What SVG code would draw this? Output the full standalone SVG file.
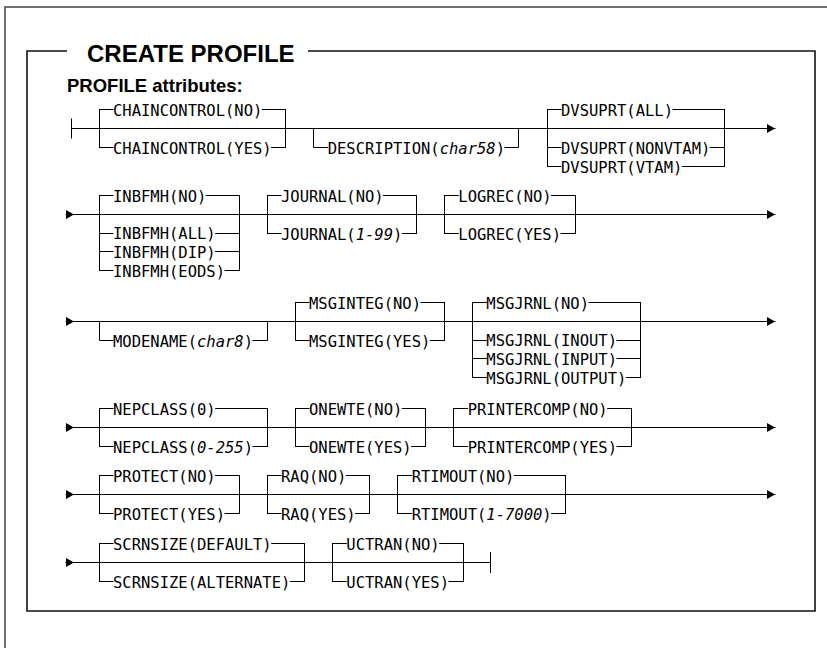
<svg xmlns="http://www.w3.org/2000/svg" width="827" height="648" viewBox="0 0 827 648">
<defs>
<style>
.t{font-family:"DejaVu Sans Mono","Liberation Mono",monospace;font-size:15.5px;fill:#000}
.i{font-style:italic}
.ln{stroke:#000;stroke-width:1;fill:none;stroke-linecap:square}
.h{font-family:"Liberation Sans",Arial,sans-serif;font-weight:bold;fill:#000}
</style>
<marker id="arrS" markerUnits="userSpaceOnUse" markerWidth="8" markerHeight="9" viewBox="0 0 8 9" refX="0" refY="4.5" orient="auto"><path d="M0 0L8 4.5L0 9z" fill="#000"/></marker>
<marker id="arrE" markerUnits="userSpaceOnUse" markerWidth="8" markerHeight="9" viewBox="0 0 8 9" refX="8" refY="4.5" orient="auto"><path d="M0 0L8 4.5L0 9z" fill="#000"/></marker>
</defs>
<rect width="827" height="648" fill="#fff"/>
<g id="frame">
<path d="M5 648V7H827" fill="none" stroke="#444" stroke-width="1.5"/>
<path d="M67 51H27V611H815V51H308" fill="none" stroke="#111" stroke-width="1.6"/>
<text class="h" x="87" y="61.5" font-size="24">CREATE PROFILE</text>
<text class="h" x="67" y="92" font-size="18.5">PROFILE attributes:</text>
</g>
<g id="connectors" class="ln">
<path d="M71.5 128.5H775" marker-end="url(#arrE)"/>
<path d="M71.5 119V138"/>
<path d="M66 214.5H775" marker-start="url(#arrS)" marker-end="url(#arrE)"/>
<path d="M66 321.5H775" marker-start="url(#arrS)" marker-end="url(#arrE)"/>
<path d="M66 427.5H775" marker-start="url(#arrS)" marker-end="url(#arrE)"/>
<path d="M66 494.5H775" marker-start="url(#arrS)" marker-end="url(#arrE)"/>
<path d="M66 562.5H490.5" marker-start="url(#arrS)"/>
<path d="M490.5 552.5V572.5"/>
</g>
<g id="chaincontrol">
<path class="ln" d="M99.5 109.5V147.5M285.5 109.5V147.5M99.5 109.5H113M262.33 109.5H285.5M99.5 147.5H113M271.67 147.5H285.5"/>
<text class="t" x="113" y="115.8">CHAINCONTROL(NO)</text>
<text class="t" x="113" y="153.8">CHAINCONTROL(YES)</text>
</g>
<g id="description">
<path class="ln" d="M313.5 128.5V147.5H327.67M505 147.5H518.5V128.5"/>
<text class="t" x="327.67" y="153.8">DESCRIPTION(<tspan class="i">char58</tspan>)</text>
</g>
<g id="dvsuprt">
<path class="ln" d="M547.5 109.5V166.5M724.5 109.5V166.5M547.5 109.5H561M673 109.5H724.5M547.5 147.5H561M710.33 147.5H724.5M547.5 166.5H561M682.33 166.5H724.5"/>
<text class="t" x="561" y="115.8">DVSUPRT(ALL)</text>
<text class="t" x="561" y="153.8">DVSUPRT(NONVTAM)</text>
<text class="t" x="561" y="172.8">DVSUPRT(VTAM)</text>
</g>
<g id="inbfmh">
<path class="ln" d="M99.5 195.5V270.5M239.5 195.5V270.5M99.5 195.5H113M206.33 195.5H239.5M99.5 233.5H113M215.67 233.5H239.5M99.5 251.5H113M215.67 251.5H239.5M99.5 270.5H113M225 270.5H239.5"/>
<text class="t" x="113" y="201.8">INBFMH(NO)</text>
<text class="t" x="113" y="239.45">INBFMH(ALL)</text>
<text class="t" x="113" y="258.15">INBFMH(DIP)</text>
<text class="t" x="113" y="276.85">INBFMH(EODS)</text>
</g>
<g id="journal">
<path class="ln" d="M267.5 195.5V233.5M416.5 195.5V233.5M267.5 195.5H281M383.67 195.5H416.5M267.5 233.5H281M402.33 233.5H416.5"/>
<text class="t" x="281" y="201.8">JOURNAL(NO)</text>
<text class="t" x="281" y="239.8">JOURNAL(<tspan class="i">1-99</tspan>)</text>
</g>
<g id="logrec">
<path class="ln" d="M444.5 195.5V233.5M575.5 195.5V233.5M444.5 195.5H458.33M551.67 195.5H575.5M444.5 233.5H458.33M561 233.5H575.5"/>
<text class="t" x="458.33" y="201.8">LOGREC(NO)</text>
<text class="t" x="458.33" y="239.8">LOGREC(YES)</text>
</g>
<g id="modename">
<path class="ln" d="M99.5 321.5V340.5H113M253 340.5H267.5V321.5"/>
<text class="t" x="113" y="346.8">MODENAME(<tspan class="i">char8</tspan>)</text>
</g>
<g id="msginteg">
<path class="ln" d="M295.5 302.5V340.5M444.5 302.5V340.5M295.5 302.5H309M421 302.5H444.5M295.5 340.5H309M430.33 340.5H444.5"/>
<text class="t" x="309" y="308.8">MSGINTEG(NO)</text>
<text class="t" x="309" y="346.8">MSGINTEG(YES)</text>
</g>
<g id="msgjrnl">
<path class="ln" d="M472.5 302.5V377.5M640.5 302.5V377.5M472.5 302.5H486.33M589 302.5H640.5M472.5 340.5H486.33M617 340.5H640.5M472.5 358.5H486.33M617 358.5H640.5M472.5 377.5H486.33M626.33 377.5H640.5"/>
<text class="t" x="486.33" y="308.8">MSGJRNL(NO)</text>
<text class="t" x="486.33" y="346.45">MSGJRNL(INOUT)</text>
<text class="t" x="486.33" y="365.15">MSGJRNL(INPUT)</text>
<text class="t" x="486.33" y="383.85">MSGJRNL(OUTPUT)</text>
</g>
<g id="nepclass">
<path class="ln" d="M99.5 408.5V446.5M267.5 408.5V446.5M99.5 408.5H113M215.67 408.5H267.5M99.5 446.5H113M253 446.5H267.5"/>
<text class="t" x="113" y="414.8">NEPCLASS(0)</text>
<text class="t" x="113" y="452.8">NEPCLASS(<tspan class="i">0-255</tspan>)</text>
</g>
<g id="onewte">
<path class="ln" d="M295.5 408.5V446.5M425.5 408.5V446.5M295.5 408.5H309M402.33 408.5H425.5M295.5 446.5H309M411.67 446.5H425.5"/>
<text class="t" x="309" y="414.8">ONEWTE(NO)</text>
<text class="t" x="309" y="452.8">ONEWTE(YES)</text>
</g>
<g id="printercomp">
<path class="ln" d="M453.5 408.5V446.5M631.5 408.5V446.5M453.5 408.5H467.67M607.67 408.5H631.5M453.5 446.5H467.67M617 446.5H631.5"/>
<text class="t" x="467.67" y="414.8">PRINTERCOMP(NO)</text>
<text class="t" x="467.67" y="452.8">PRINTERCOMP(YES)</text>
</g>
<g id="protect">
<path class="ln" d="M99.5 475.5V513.5M239.5 475.5V513.5M99.5 475.5H113M215.67 475.5H239.5M99.5 513.5H113M225 513.5H239.5"/>
<text class="t" x="113" y="481.8">PROTECT(NO)</text>
<text class="t" x="113" y="519.8">PROTECT(YES)</text>
</g>
<g id="raq">
<path class="ln" d="M267.5 475.5V513.5M369.5 475.5V513.5M267.5 475.5H281M346.33 475.5H369.5M267.5 513.5H281M355.67 513.5H369.5"/>
<text class="t" x="281" y="481.8">RAQ(NO)</text>
<text class="t" x="281" y="519.8">RAQ(YES)</text>
</g>
<g id="rtimout">
<path class="ln" d="M397.5 475.5V513.5M565.5 475.5V513.5M397.5 475.5H411.67M514.33 475.5H565.5M397.5 513.5H411.67M551.67 513.5H565.5"/>
<text class="t" x="411.67" y="481.8">RTIMOUT(NO)</text>
<text class="t" x="411.67" y="519.8">RTIMOUT(<tspan class="i">1-7000</tspan>)</text>
</g>
<g id="scrnsize">
<path class="ln" d="M99.5 543.5V581.5M304.5 543.5V581.5M99.5 543.5H113M271.67 543.5H304.5M99.5 581.5H113M290.33 581.5H304.5"/>
<text class="t" x="113" y="549.8">SCRNSIZE(DEFAULT)</text>
<text class="t" x="113" y="587.8">SCRNSIZE(ALTERNATE)</text>
</g>
<g id="uctran">
<path class="ln" d="M332.5 543.5V581.5M463.5 543.5V581.5M332.5 543.5H346.33M439.67 543.5H463.5M332.5 581.5H346.33M449 581.5H463.5"/>
<text class="t" x="346.33" y="549.8">UCTRAN(NO)</text>
<text class="t" x="346.33" y="587.8">UCTRAN(YES)</text>
</g>
</svg>
